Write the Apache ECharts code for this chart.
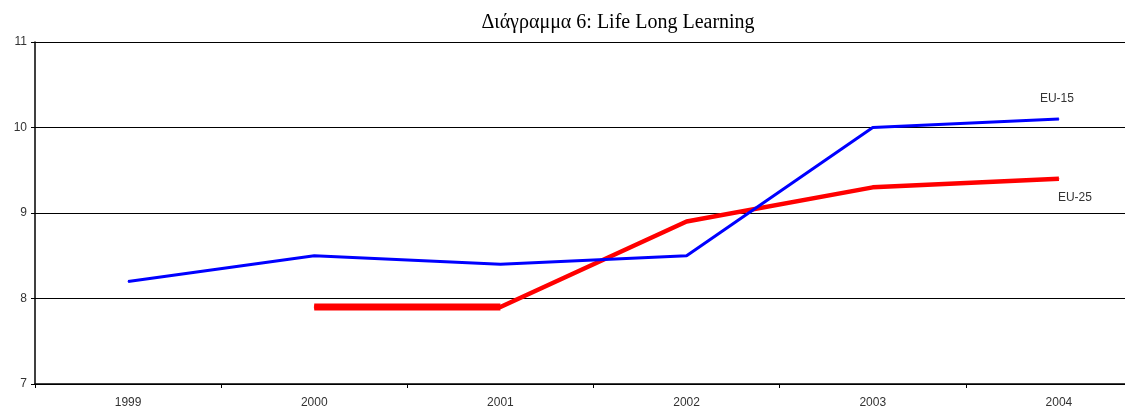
<!DOCTYPE html>
<html>
<head>
<meta charset="utf-8">
<script src="https://cdn.jsdelivr.net/npm/echarts@6/dist/echarts.min.js"></script>
<style>
  html, body { margin: 0; padding: 0; background: #fff; overflow: hidden; }
  /* the original plot runs past the right edge of the picture, so the chart is wider than the page */
  #chart { width: 1152px; height: 412px; }
</style>
</head>
<body>
<div id="chart"></div>
<script>
const years = ['1999', '2000', '2001', '2002', '2003', '2004'];
const eu15 = [8.2, 8.5, 8.4, 8.5, 10.0, 10.1];
const eu25 = [null, 7.9, 7.9, 8.9, 9.3, 9.4];
// the flat 2000-2001 stretch of EU-25 is drawn heavier in the original
const eu25Flat = [null, 7.9, 7.9, null, null, null];
const yTicks = [7, 8, 9, 10, 11];

const chart = echarts.init(document.getElementById('chart'));

const lastLabel = (arr, text, pos, offset) => arr.map((v, i) => {
    if (i !== arr.length - 1) return v;
    return {
        value: v,
        label: {
            show: true, position: pos, offset: offset, formatter: text,
            fontFamily: 'Liberation Sans', fontSize: 12, color: '#333'
        }
    };
});

const option = {
    animation: false,
    title: {
        text: 'Διάγραμμα 6: Life Long Learning',
        left: 613, top: 8, textAlign: 'center',
        textStyle: { fontFamily: 'Liberation Serif', fontSize: 20, fontWeight: 'normal', color: '#000' }
    },
    grid: { left: 35, right: 0, top: 42, bottom: 28 },
    xAxis: {
        type: 'category',
        data: years,
        boundaryGap: true,
        axisLine: { lineStyle: { color: '#000', width: 1.5 } },
        axisTick: { show: true, length: 4, lineStyle: { color: '#000' } },
        axisLabel: { fontFamily: 'Liberation Sans', fontSize: 12, color: '#333', margin: 13 },
        splitLine: { show: false }
    },
    yAxis: {
        type: 'value',
        min: yTicks[0], max: yTicks[yTicks.length - 1], interval: 1,
        axisLine: { show: true, lineStyle: { color: '#000', width: 1.5 } },
        axisTick: { show: true, length: 4, lineStyle: { color: '#000' } },
        axisLabel: { fontFamily: 'Liberation Sans', fontSize: 12, color: '#333', margin: 8 },
        splitLine: { show: true, lineStyle: { color: '#000', width: 1.2 } }
    },
    series: [
        {
            name: 'EU-15',
            type: 'line',
            data: lastLabel(eu15, 'EU-15', 'top', [-2, -9]),
            symbol: 'circle',
            symbolSize: 1,
            itemStyle: { color: '#0000ff' },
            lineStyle: { color: '#0000ff', width: 3 },
            z: 3
        },
        {
            name: 'EU-25',
            type: 'line',
            data: lastLabel(eu25, 'EU-25', 'bottom', [16, 7]),
            symbol: 'circle',
            symbolSize: 1,
            itemStyle: { color: '#ff0000' },
            lineStyle: { color: '#ff0000', width: 4.5 },
            z: 2
        },
        {
            name: 'EU-25 flat',
            type: 'line',
            data: eu25Flat,
            symbol: 'none',
            lineStyle: { color: '#ff0000', width: 7 },
            z: 2
        }
    ]
};
chart.setOption(option);
</script>
</body>
</html>
